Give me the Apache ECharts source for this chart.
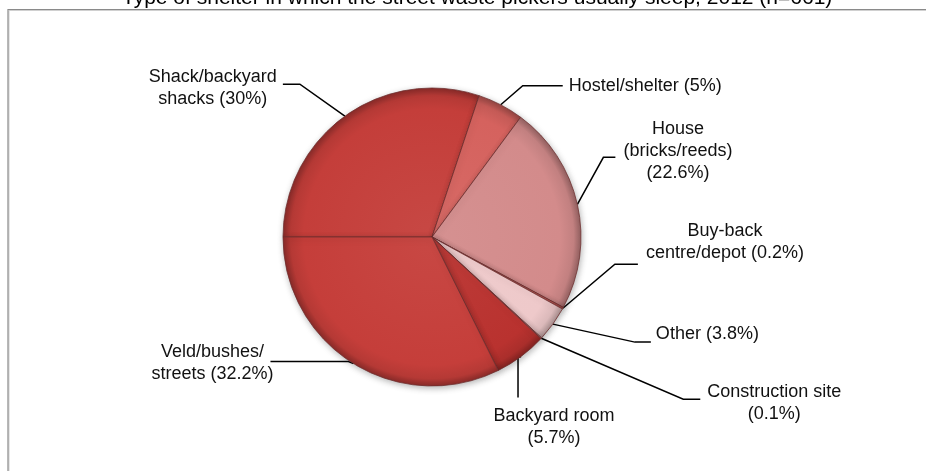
<!DOCTYPE html>
<html>
<head>
<meta charset="utf-8">
<script src="https://cdn.jsdelivr.net/npm/echarts@6/dist/echarts.min.js"></script>
<style>
html,body{margin:0;padding:0;background:#fff;}
#chart{width:926px;height:471px;}
</style>
</head>
<body>
<div id="chart"></div>
<script>
// ---- data ----
const titleText = 'Type of shelter in which the street waste pickers usually sleep, 2012 (n=661)';
const categories = ['Shack/backyard shacks', 'Hostel/shelter', 'House (bricks/reeds)', 'Buy-back centre/depot', 'Other', 'Construction site', 'Backyard room', 'Veld/bushes/ streets'];
const labelNames = ['Shack/backyard\nshacks', 'Hostel/shelter', 'House\n(bricks/reeds)\n', 'Buy-back\ncentre/depot', 'Other', 'Construction site\n', 'Backyard room\n', 'Veld/bushes/\nstreets'];
const values = [30, 5, 22.6, 0.2, 3.8, 0.1, 5.7, 32.2];
const colors = ['#c43e3a', '#d5625e', '#d38b8b', '#c85a56', '#eec9ca', '#d9a0a0', '#b9322f', '#c53e3a'];

// ---- leader line / label placement styles (relative to library anchor) ----
const labelCfg = [
  {seg: [-45, -32], h: -17, gap: 6, dy: 4},
  {seg: [22, -19], h: 40, gap: 6, dy: 0},
  {seg: [26, -47], h: 12, gap: 8, dy: -6},
  {seg: [52, -44], h: 23, gap: 8, dy: -22},
  {seg: [82, 18], h: 16, gap: 5, dy: -8},
  {seg: [142, 61], h: 17, gap: 7, dy: 4},
  {seg: [-3, 1], v: 40, below: true, dx: 36, gap: 8},
  {seg: [-5, -2], h: -78, gap: -3, dy: 1}
];

const CX = 432, CY = 237, R = 149;

function shade(hex, f) {
  const n = parseInt(hex.slice(1), 16);
  let r = (n >> 16) & 255, g = (n >> 8) & 255, b = n & 255;
  if (f >= 0) { r += (255 - r) * f; g += (255 - g) * f; b += (255 - b) * f; }
  else { r *= (1 + f); g *= (1 + f); b *= (1 + f); }
  return 'rgb(' + Math.round(r) + ',' + Math.round(g) + ',' + Math.round(b) + ')';
}

const seriesData = categories.map(function (c, i) {
  return {
    name: c,
    value: values[i],
    itemStyle: {
      color: {
        type: 'radial', x: CX, y: CY, r: R, global: true,
        colorStops: [
          {offset: 0, color: shade(colors[i], 0.05)},
          {offset: 0.86, color: colors[i]},
          {offset: 0.95, color: shade(colors[i], -0.08)},
          {offset: 1, color: shade(colors[i], -0.3)}
        ]
      }
    }
  };
});

const chart = echarts.init(document.getElementById('chart'), null, {renderer: 'canvas'});
chart.setOption({
  backgroundColor: '#ffffff',
  animation: false,
  title: {
    text: titleText,
    left: 122,
    top: -12,
    padding: 0,
    textStyle: {fontFamily: 'Liberation Sans, Arial, sans-serif', fontSize: 21, fontWeight: 'normal', color: '#000', lineHeight: 21}
  },
  graphic: [
    {type: 'rect', shape: {x: 9, y: 10.5, width: 1000, height: 1000}, style: {fill: 'none', stroke: '#d0d0d0', lineWidth: 1}, silent: true},
    {type: 'rect', shape: {x: 8, y: 9.5, width: 1000, height: 1000}, style: {fill: 'none', stroke: '#8a8a8a', lineWidth: 1.2}, silent: true}
  ],
  series: [{
    type: 'pie',
    center: [CX, CY],
    radius: [0, R],
    startAngle: 180,
    clockwise: true,
    avoidLabelOverlap: false,
    minShowLabelAngle: 0,
    data: seriesData,
    itemStyle: {
      borderColor: 'rgba(110,45,45,0.75)',
      borderWidth: 1,
      shadowBlur: 6,
      shadowColor: 'rgba(0,0,0,0.28)',
      shadowOffsetX: 1,
      shadowOffsetY: 2
    },
    label: {
      show: true,
      position: 'outside',
      fontFamily: 'Liberation Sans, Arial, sans-serif',
      fontSize: 18,
      lineHeight: 22,
      color: '#111',
      formatter: function (p) {
        const n = labelNames[p.dataIndex];
        const sep = n.endsWith('\n') ? '' : ' ';
        return n + sep + '(' + p.value + '%)';
      }
    },
    labelLine: {
      show: true,
      length: 20,
      length2: 10,
      lineStyle: {color: '#000', width: 1.5}
    },
    labelLayout: function (p) {
      const c = labelCfg[p.dataIndex];
      const pts = p.labelLinePoints;
      if (!pts) return {};
      const a = [pts[0][0], pts[0][1]];
      const p1 = [a[0] + c.seg[0], a[1] + c.seg[1]];
      const w = p.labelRect.width, h = p.labelRect.height;
      let x, y, p2;
      if (c.below) {
        p2 = [p1[0], p1[1] + c.v];
        x = p2[0] + c.dx;
        y = p2[1] + c.gap + h / 2;
      } else {
        p2 = [p1[0] + c.h, p1[1]];
        const s = c.h < 0 ? -1 : 1;
        x = p2[0] + s * (c.gap + w / 2);
        y = p2[1] + c.dy;
      }
      return {x: x, y: y, align: 'center', verticalAlign: 'middle', labelLinePoints: [a, p1, p2]};
    }
  }]
});
</script>
</body>
</html>
